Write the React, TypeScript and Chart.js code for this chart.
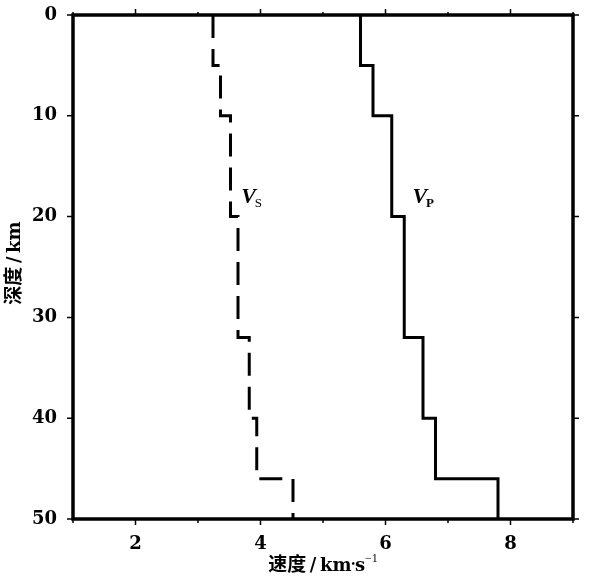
import React, { useEffect, useRef } from "react";
import { Chart, registerables } from "chart.js";

Chart.register(...registerables);

// Layer boundaries (depth, km)
const layerTops = [0, 5, 10, 20, 32, 40, 46];
const layerBottoms = [5, 10, 20, 32, 40, 46, 50];
// Velocities per layer (km/s)
const vpValues = [5.6, 5.8, 6.1, 6.3, 6.6, 6.8, 7.8];
const vsValues = [3.24, 3.36, 3.52, 3.64, 3.82, 3.94, 4.52];
// Curve labels
const labelMain = ["V", "V"];
const labelSub = ["S", "P"];
const labelVel = [3.69, 6.43];
const labelDepth = [18.65, 18.65];
// Axis
const xTickValues = [1, 2, 3, 4, 5, 6, 7, 8, 9];
const yTickValues = [0, 10, 20, 30, 40, 50];

function stepPoints(vals: number[]) {
  const pts: { x: number; y: number }[] = [];
  vals.forEach((v, i) => {
    pts.push({ x: v, y: layerTops[i] });
    pts.push({ x: v, y: layerBottoms[i] });
  });
  return pts;
}

const SERIF = '"Liberation Serif", "DejaVu Serif", serif';
const WIDE = '"DejaVu Serif", serif';
const CJK = '"Noto Sans CJK SC", sans-serif';

const framePlugin = {
  id: "frame",
  afterDraw(chart: any) {
    const ctx = chart.ctx as CanvasRenderingContext2D;
    const { left, right, top, bottom } = chart.chartArea;
    const xs = chart.scales.x;
    const ys = chart.scales.y;
    ctx.save();
    ctx.strokeStyle = "#000";
    // ticks
    ctx.lineWidth = 1.5;
    ctx.beginPath();
    xTickValues.forEach((v) => {
      const px = xs.getPixelForValue(v);
      const major = v % 2 === 0;
      const lb = major ? 6 : 4;
      const lt = major ? 6 : 3;
      ctx.moveTo(px, bottom);
      ctx.lineTo(px, bottom + lb);
      ctx.moveTo(px, top);
      ctx.lineTo(px, top - lt);
    });
    yTickValues.forEach((v) => {
      const py = ys.getPixelForValue(v);
      ctx.moveTo(left, py);
      ctx.lineTo(left - 6, py);
      ctx.moveTo(right, py);
      ctx.lineTo(right + 6, py);
    });
    ctx.stroke();
    // frame
    ctx.lineWidth = 3.5;
    ctx.strokeRect(left, top, right - left, bottom - top);

    // curve labels
    ctx.fillStyle = "#000";
    ctx.textBaseline = "alphabetic";
    ctx.textAlign = "left";
    for (let i = 0; i < labelMain.length; i++) {
      const px = xs.getPixelForValue(labelVel[i]);
      const py = ys.getPixelForValue(labelDepth[i]);
      ctx.font = `italic bold 22px ${SERIF}`;
      ctx.fillText(labelMain[i], px, py);
      const w = ctx.measureText(labelMain[i]).width;
      ctx.font = `${labelSub[i] === "P" ? "bold " : ""}13px ${SERIF}`;
      ctx.fillText(labelSub[i], px + w - 1, py + 4);
    }

    // x title: 速度/km·s⁻¹
    const cx = (left + right) / 2;
    const ty = 571;
    const parts: [string, string, number][] = [
      ["速度", `bold 19px ${CJK}`, 0],
      ["\u2009/\u2009", `bold 18px ${WIDE}`, 0],
      ["km", `bold 18px ${WIDE}`, 0],
      ["\u2022", `bold 10px ${SERIF}`, -4],
      ["s", `bold 18px ${WIDE}`, 0],
      ["\u2212", `12px ${SERIF}`, -9],
      ["1", `12px ${SERIF}`, -9],
    ];
    let total = 0;
    parts.forEach(([t, f]) => {
      ctx.font = f;
      total += ctx.measureText(t).width;
    });
    let xx = cx - total / 2;
    parts.forEach(([t, f, dy]) => {
      ctx.font = f;
      ctx.fillText(t, xx, ty + dy);
      xx += ctx.measureText(t).width;
    });

    // y title: 深度/km
    ctx.translate(20, (top + bottom) / 2 - 4);
    ctx.rotate(-Math.PI / 2);
    const yparts: [string, string][] = [
      ["深度", `bold 19px ${CJK}`],
      ["\u2009/\u2009", `bold 18px ${WIDE}`],
      ["km", `bold 18px ${WIDE}`],
    ];
    let yt = 0;
    yparts.forEach(([t, f]) => {
      ctx.font = f;
      yt += ctx.measureText(t).width;
    });
    let yx = -yt / 2;
    yparts.forEach(([t, f]) => {
      ctx.font = f;
      ctx.fillText(t, yx, 0);
      yx += ctx.measureText(t).width;
    });
    ctx.restore();
  },
};

export default function App() {
  const ref = useRef<HTMLCanvasElement>(null);
  useEffect(() => {
    if (!ref.current) return;
    const chart = new Chart(ref.current, {
      type: "scatter",
      data: {
        datasets: [
          {
            label: "Vs",
            data: stepPoints(vsValues),
            showLine: true,
            borderColor: "#000",
            borderWidth: 3,
            borderDash: [23, 11],
            pointRadius: 0,
            fill: false,
          },
          {
            label: "Vp",
            data: stepPoints(vpValues),
            showLine: true,
            borderColor: "#000",
            borderWidth: 3,
            pointRadius: 0,
            fill: false,
          },
        ],
      },
      options: {
        responsive: false,
        animation: false,
        layout: { padding: { top: 15, right: 16, left: 0, bottom: 0 } },
        plugins: { legend: { display: false }, tooltip: { enabled: false } },
        scales: {
          x: {
            type: "linear",
            position: "bottom",
            min: 1,
            max: 9,
            grid: { display: false },
            border: { display: false },
            afterFit: (s: any) => {
              s.height = 61;
              s.paddingLeft = 0;
              s.paddingRight = 0;
            },
            ticks: {
              stepSize: 1,
              padding: 7,
              color: "#000",
              font: { family: WIDE, size: 18, weight: "bold" },
              callback: (v: any) => (Number(v) % 2 === 0 ? String(v) : ""),
            },
          },
          y: {
            type: "linear",
            position: "left",
            reverse: true,
            min: 0,
            max: 50,
            grid: { display: false },
            border: { display: false },
            afterFit: (s: any) => {
              s.width = 73;
              s.paddingTop = 0;
              s.paddingBottom = 0;
            },
            ticks: {
              stepSize: 10,
              padding: 8,
              color: "#000",
              font: { family: WIDE, size: 18, weight: "bold" },
            },
          },
        },
      },
      plugins: [framePlugin],
    });
    return () => chart.destroy();
  }, []);
  return (
    <div style={{ position: "absolute", left: 0, top: 0, width: 589, height: 580, background: "#fff" }}>
      <canvas ref={ref} width={589} height={580} style={{ display: "block" }} />
    </div>
  );
}
